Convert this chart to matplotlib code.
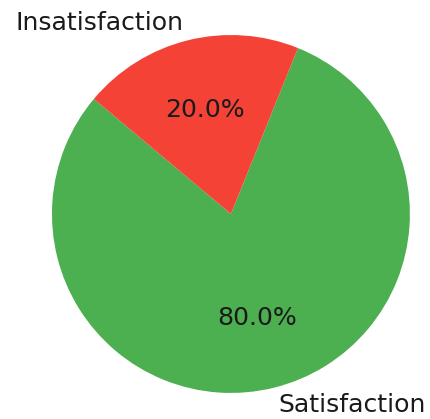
import matplotlib
matplotlib.use("Agg")
import matplotlib.pyplot as plt

labels = ["Satisfaction", "Insatisfaction"]
shares = [80, 20]
colors = ["#4CAF50", "#F44336"]

fig = plt.figure(figsize=(4.31, 4.19), dpi=100)
# square axes a bit bigger than the figure so the pie fills it
ax = fig.add_axes([0.0168, -0.0447, 1.038, 1.068])
ax.pie(shares, labels=labels, colors=colors, autopct="%1.1f%%",
       startangle=140, textprops={"fontsize": 18.1, "color": "#1a1a1a"})
ax.set_aspect("equal")

fig.savefig("out.png", dpi=100)
